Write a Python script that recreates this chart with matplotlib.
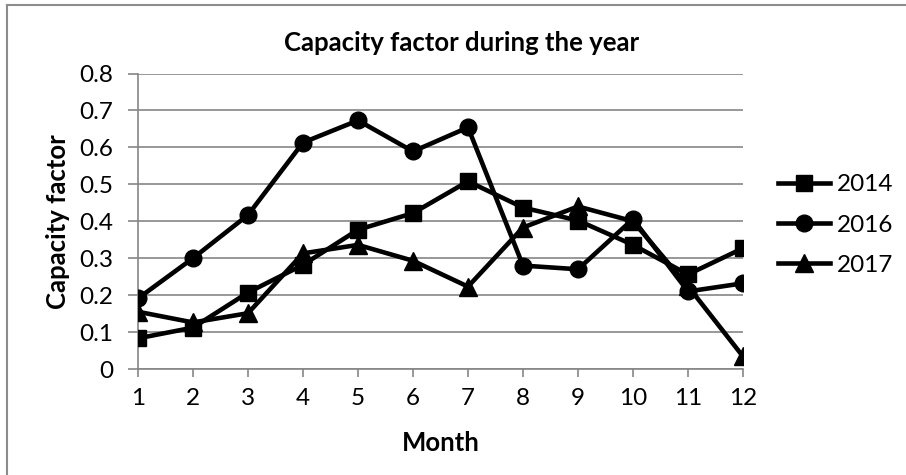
import matplotlib.pyplot as plt
from matplotlib.lines import Line2D

plt.rcParams['font.family'] = ['Lato', 'DejaVu Sans']

months = list(range(1, 13))
cf_2014 = [0.083, 0.112, 0.207, 0.282, 0.377, 0.422, 0.508, 0.437, 0.402, 0.336, 0.256, 0.327]
cf_2016 = [0.191, 0.300, 0.417, 0.613, 0.673, 0.589, 0.654, 0.280, 0.270, 0.406, 0.210, 0.232]
cf_2017 = [0.155, 0.126, 0.151, 0.313, 0.336, 0.293, 0.223, 0.383, 0.440, 0.400, 0.224, 0.034]
yticks = [0, 0.1, 0.2, 0.3, 0.4, 0.5, 0.6, 0.7, 0.8]
ytick_labels = ['0', '0.1', '0.2', '0.3', '0.4', '0.5', '0.6', '0.7', '0.8']

W, H = 906, 475
fig = plt.figure(figsize=(W / 100, H / 100), dpi=100)
ax = fig.add_axes([138 / W, 1 - 369 / H, (743 - 138) / W, (369 - 73.5) / H])

grey = '#868686'
ax.plot(months, cf_2014, color='black', lw=3.3, marker='s', ms=11.5, label='2014', zorder=3)
ax.plot(months, cf_2016, color='black', lw=3.3, marker='o', ms=12, label='2016', zorder=3)
ax.plot(months, cf_2017, color='black', lw=3.3, marker='^', ms=12.5, label='2017', zorder=3)

ax.set_xlim(1, 12)
ax.set_ylim(0, 0.8)
ax.set_xticks(months)
ax.set_yticks(yticks)
ax.set_yticklabels(ytick_labels)
ax.grid(axis='y', color=grey, lw=1.2)
ax.set_axisbelow(True)
for s in ['top', 'right']:
    ax.spines[s].set_visible(False)
for s in ['left', 'bottom']:
    ax.spines[s].set_color(grey)
    ax.spines[s].set_linewidth(1.2)
ax.tick_params(axis='y', length=7, width=1.2, color=grey, pad=11, labelsize=17.5)
ax.tick_params(axis='x', length=6, width=1.2, color=grey, pad=8, labelsize=17.5)
for lbl in ax.get_xticklabels() + ax.get_yticklabels():
    lbl.set_clip_on(False)

fig.text(462 / W, 1 - 43 / H, 'Capacity factor during the year', ha='center', va='center',
         fontsize=18.5, fontweight='bold')
fig.text(441 / W, 1 - 443 / H, 'Month', ha='center', va='center', fontsize=18.5, fontweight='bold')
fig.text(58 / W, 1 - 222 / H, 'Capacity factor', ha='center', va='center', rotation=90,
         fontsize=18.5, fontweight='bold')

ax.legend(loc='center left', bbox_to_anchor=(778 / W, 1 - 225 / H), bbox_transform=fig.transFigure,
          frameon=False, fontsize=17.5, handlelength=2.15, handletextpad=0.28, labelspacing=0.8,
          borderpad=0, borderaxespad=0)

# chart border (only left and top edges are in the picture)
fig.add_artist(Line2D([7 / W, 7 / W], [0, 1 - 5 / H], color='#8c8c8c', lw=1.5))
fig.add_artist(Line2D([7 / W, 1], [1 - 5 / H, 1 - 5 / H], color='#8c8c8c', lw=1.5))

fig.savefig('out.png', dpi=100)
